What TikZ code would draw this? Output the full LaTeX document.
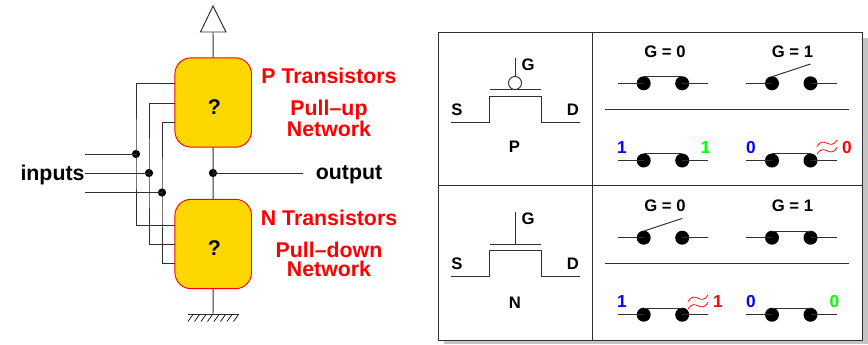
\documentclass[tikz,border=0pt]{standalone}
\usepackage{fontspec}
\setmainfont{Liberation Sans}
\usetikzlibrary{calc}
\definecolor{boxgold}{HTML}{FFD700}
\definecolor{shadowgrey}{HTML}{C4C4C4}
\definecolor{wiregrey}{HTML}{303030}
\tikzset{
  wire/.style={draw=wiregrey,line width=0.72pt},
  dot/.style={circle,fill=black,inner sep=0pt,minimum size=6.2pt},
  bigdot/.style={circle,fill=black,inner sep=0pt,minimum size=10.5pt},
  network/.style={draw=red,fill=boxgold,line width=0.7pt,rounded corners=12pt,minimum width=57.4pt,minimum height=67pt,inner sep=0pt},
  redlab/.style={text=red,font=\fontsize{16}{14.25}\selectfont\bfseries,inner sep=0pt,align=center},
  blacklab/.style={text=black,font=\fontsize{16}{18}\selectfont\bfseries,inner sep=0pt},
  tlab/.style={text=black,font=\fontsize{12.5}{14}\selectfont\bfseries,inner sep=0pt},
  vlab/.style={font=\fontsize{13}{15}\selectfont\bfseries,inner sep=0pt},
  wave/.style={draw=red,line width=0.55pt},
}
\newcommand{\SwitchAt}[3]{%
  \node[bigdot] (#1a) at (#2,#3) {};
  \node[bigdot] (#1b) at ($(#2,#3)+(38.5,0)$) {};
  \coordinate (#1l) at ($(#2,#3)+(-26,0)$);
  \coordinate (#1r) at ($(#2,#3)+(64.5,0)$);
  \coordinate (#1u) at ($(#2,#3)+(0,-6.6)$);
  \coordinate (#1v) at ($(#2,#3)+(38.5,-6.6)$);
  \coordinate (#1o) at ($(#2,#3)+(38.5,-19.3)$);
  \draw[wire] (#1l) -- (#1a.center);
  \draw[wire] (#1b.center) -- (#1r);
}
\newcommand{\WaveAt}[2]{%
  \foreach \dy in {-3.8,3.8}{
    \draw[wave] ($(#1,#2)+(-10,\dy+3.5)$) .. controls ($(#1,#2)+(-3,\dy-9)$) and ($(#1,#2)+(3,\dy+9)$) .. ($(#1,#2)+(10,\dy-3.5)$);
  }
}
\begin{document}
\begin{tikzpicture}[x=0.75pt,y=-0.75pt]
\useasboundingbox (0,0) rectangle (868,344);
% left: networks
\node[network] (pu) at (213.2,102.5) {};
\node[network] (pd) at (213.2,244) {};
\node[blacklab] (qp) at (214.5,107) {?};
\node[blacklab] (qn) at (214.5,248) {?};
% rail symbols
\coordinate (apex) at (213,6);
\coordinate (bl) at (200.5,32);
\coordinate (br) at (226,32);
\coordinate (vddfoot) at (213,32);
\draw[wire,line join=miter] (apex) -- (br) -- (bl) -- cycle;
\draw[wire] (vddfoot) -- (pu.north);
\node[dot] (outdot) at (213,173) {};
\draw[wire] (pu.south) -- (outdot.center) -- (pd.north);
\coordinate (outend) at (303,173);
\draw[wire] (outdot.center) -- (outend);
\coordinate (gnd) at (213,314.5);
\coordinate (gl) at (188,314.5);
\coordinate (gr) at (238.5,314.5);
\draw[wire] (pd.south) -- (gnd);
\draw[wire] (gl) -- (gr);
\foreach \i in {0,...,7}{\draw[line width=0.5pt] ($(gl)+(6.5*\i+5,0)$) -- ++(-5,7);}
% inputs
\node[dot] (d1) at (136,154) {};
\node[dot] (d2) at (149,173) {};
\node[dot] (d3) at (162,192.5) {};
\coordinate (i1) at (85,154);
\coordinate (i2) at (85,173);
\coordinate (i3) at (85,192.5);
\draw[wire] (i1) -- (d1.center);
\draw[wire] (i2) -- (d2.center);
\draw[wire] (i3) -- (d3.center);
\draw[wire] (175,83.5) -| (d1.center) |- (175,225);
\draw[wire] (175,103) -| (d2.center) |- (175,244);
\draw[wire] (175,122) -| (d3.center) |- (175,263.5);
\node[blacklab] (tin) at (52.5,174.5) {inputs};
\node[blacklab] (tout) at (349,174.5) {output};
\node[redlab] (t1) at (329,76) {P Transistors};
\node[redlab] (t2) at (329,118.5) {Pull–up\\Network};
\node[redlab] (t4) at (329,218) {N Transistors};
\node[redlab] (t5) at (329,259.5) {Pull–down\\Network};
% table
\fill[shadowgrey] (444,338) rectangle (868,344);
\fill[shadowgrey] (860,38) rectangle (868,344);
\draw[wire,fill=white] (438,32) rectangle (862,340.5);
\draw[wire] (592.5,32) -- (592.5,340.5);
\draw[wire] (438,185.7) -- (862,185.7);
% P symbol
\draw[wire] (451,122) -- (489.5,122) -- (489.5,96) -- (541,96) -- (541,122) -- (579.5,122);
\draw[wire] (489.5,89.7) -- (541,89.7);
\node[circle,draw=wiregrey,line width=0.7pt,fill=white,inner sep=0pt,minimum size=9.8pt] (bub) at (515,83) {};
\coordinate (gp) at (515,58);
\draw[wire] (gp) -- (bub.north);
\node[tlab] (lgp) at (528,65) {G};
\node[tlab] (lsp) at (457,110) {S};
\node[tlab] (ldp) at (573,110) {D};
\node[tlab] (lp) at (514.5,147) {P};
% N symbol
\draw[wire] (451,276) -- (489.5,276) -- (489.5,250) -- (541,250) -- (541,276) -- (579.5,276);
\draw[wire] (489.5,244) -- (541,244);
\draw[wire] (515,212) -- (515,244);
\node[tlab] (lgn) at (528,219) {G};
\node[tlab] (lsn) at (457,264) {S};
\node[tlab] (ldn) at (573,264) {D};
\node[tlab] (ln) at (515,303) {N};
% switches P
\SwitchAt{A}{643.7}{83.3}
\SwitchAt{B}{772}{83.3}
\SwitchAt{C}{643.7}{160.5}
\SwitchAt{E}{772}{160.5}
\draw[wire] (Au) -- (Av);
\draw[wire] (Bu) -- (Bo);
\draw[wire] (Cu) -- (Cv);
\draw[wire] (Eu) -- (Ev);
\node[tlab] (gA) at (665,52) {G = 0};
\node[tlab] (gB) at (792.5,52) {G = 1};
\draw[wire] (605,109) -- (849,109);
\node[vlab,text=blue] (c1) at (622,148) {1};
\node[vlab,text=green] (c2) at (705.5,148) {1};
\node[vlab,text=blue] (c3) at (751,148) {0};
\node[vlab,text=red] (c4) at (847,148) {0};
\WaveAt{827}{147}
% switches N
\SwitchAt{F}{643.7}{237.7}
\SwitchAt{H}{772}{237.7}
\SwitchAt{J}{643.7}{314.7}
\SwitchAt{K}{772}{314.7}
\draw[wire] (Fu) -- (Fo);
\draw[wire] (Hu) -- (Hv);
\draw[wire] (Ju) -- (Jv);
\draw[wire] (Ku) -- (Kv);
\node[tlab] (gF) at (665,206) {G = 0};
\node[tlab] (gH) at (792.5,206) {G = 1};
\draw[wire] (605,263) -- (849,263);
\node[vlab,text=blue] (c5) at (622,302) {1};
\node[vlab,text=red] (c6) at (718,302) {1};
\node[vlab,text=blue] (c7) at (751,302) {0};
\node[vlab,text=green] (c8) at (834.5,302) {0};
\WaveAt{698}{302}
\end{tikzpicture}
\end{document}
